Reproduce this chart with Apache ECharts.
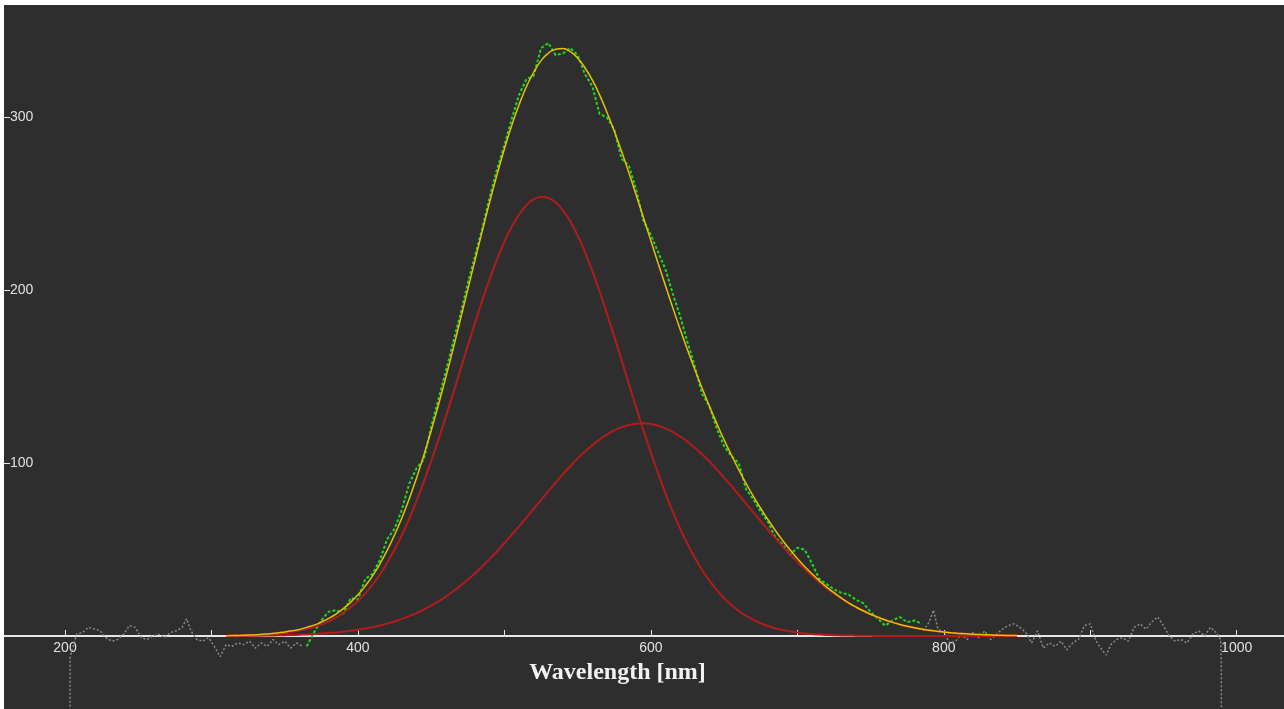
<!DOCTYPE html>
<html>
<head>
<meta charset="utf-8">
<script src="https://cdn.jsdelivr.net/npm/echarts@6/dist/echarts.min.js"></script>
<style>
  html, body { margin: 0; padding: 0; background: #ffffff; }
  #chart { position: absolute; left: 4px; top: 5px; width: 1280px; height: 704px; background: #2e2e2e; }
</style>
</head>
<body>
<div id="chart"></div>
<script>
// 光谱拟合图：原始数据 + 两个高斯分量 + 拟合曲线

// 拟合曲线的波长 (nm)，每 5 nm 一个点
const fitX = [310, 315, 320, 325, 330, 335, 340, 345, 350, 355,
  360, 365, 370, 375, 380, 385, 390, 395, 400, 405,
  410, 415, 420, 425, 430, 435, 440, 445, 450, 455,
  460, 465, 470, 475, 480, 485, 490, 495, 500, 505,
  510, 515, 520, 525, 530, 535, 540, 545, 550, 555,
  560, 565, 570, 575, 580, 585, 590, 595, 600, 605,
  610, 615, 620, 625, 630, 635, 640, 645, 650, 655,
  660, 665, 670, 675, 680, 685, 690, 695, 700, 705,
  710, 715, 720, 725, 730, 735, 740, 745, 750, 755,
  760, 765, 770, 775, 780, 785, 790, 795, 800, 805,
  810, 815, 820, 825, 830, 835, 840, 845, 850]

// 第一个高斯分量 (峰 ~526 nm)
const peak1 = [0.15, 0.21, 0.29, 0.41, 0.56, 0.76, 1.0, 1.37, 1.8, 2.4,
  3.1, 4.1, 5.2, 6.7, 8.5, 10.7, 13.3, 16.5, 20.2, 24.6,
  29.7, 35.6, 42.4, 50.0, 58.4, 67.8, 78.1, 89.2, 101.1, 113.7,
  126.8, 140.3, 154.1, 167.8, 181.3, 194.3, 206.6, 217.9, 228.0, 236.8,
  243.8, 249.2, 252.5, 254.0, 253.4, 250.7, 246.2, 239.8, 231.7, 222.1,
  211.3, 199.3, 186.5, 173.2, 159.6, 145.8, 132.2, 118.9, 106.1, 93.9,
  82.5, 71.8, 62.1, 53.2, 45.3, 38.2, 32.0, 26.6, 21.9, 17.9,
  14.5, 11.7, 9.3, 7.4, 5.8, 4.5, 3.5, 2.7, 2.0, 1.5,
  1.2, 0.85, 0.6, 0.46, 0.3, 0.24, 0.2, 0.12, 0.1, 0,
  0, 0, 0, 0, 0, 0, 0, 0, 0, 0,
  0, 0, 0, 0, 0, 0, 0, 0, 0]

// 第二个高斯分量 (峰 ~594 nm)
const peak2 = [0.06, 0.08, 0.11, 0.14, 0.18, 0.23, 0.29, 0.37, 0.46, 0.58,
  0.72, 0.9, 1.1, 1.4, 1.7, 2.0, 2.5, 3.0, 3.6, 4.3,
  5.1, 6.1, 7.2, 8.4, 9.9, 11.5, 13.3, 15.3, 17.6, 20.1,
  22.8, 25.8, 29.1, 32.6, 36.3, 40.3, 44.6, 49.0, 53.7, 58.5,
  63.4, 68.5, 73.6, 78.7, 83.8, 88.7, 93.6, 98.2, 102.6, 106.6,
  110.4, 113.7, 116.5, 118.9, 120.8, 122.1, 122.8, 123.0, 122.6, 121.6,
  120.1, 118.0, 115.4, 112.4, 108.9, 105.1, 100.9, 96.4, 91.6, 86.8,
  81.7, 76.6, 71.5, 66.5, 61.5, 56.6, 51.8, 47.2, 42.9, 38.7,
  34.8, 31.1, 27.7, 24.6, 21.7, 19.0, 16.6, 14.5, 12.5, 10.8,
  9.3, 7.9, 6.7, 5.7, 4.8, 4.0, 3.3, 2.8, 2.3, 1.9,
  1.5, 1.26, 1.0, 0.82, 0.7, 0.53, 0.4, 0.33, 0.3]

// 拟合总曲线
const fitY = [0.2, 0.3, 0.4, 0.55, 0.7, 1.0, 1.3, 1.7, 2.3, 3.0,
  3.8, 5.0, 6.3, 8.1, 10.2, 12.7, 15.8, 19.5, 23.8, 28.9,
  34.8, 41.7, 49.6, 58.4, 68.3, 79.3, 91.4, 104.5, 118.7, 133.8,
  149.6, 166.1, 183.2, 200.4, 217.6, 234.6, 251.2, 266.9, 281.7, 295.3,
  307.2, 317.7, 326.1, 332.7, 337.2, 339.4, 339.8, 338.0, 334.3, 328.7,
  321.7, 313.0, 303.0, 292.1, 280.4, 267.9, 255.0, 241.9, 228.7, 215.5,
  202.6, 189.8, 177.5, 165.6, 154.2, 143.3, 132.9, 123.0, 113.5, 104.7,
  96.2, 88.3, 80.8, 73.9, 67.3, 61.1, 55.3, 49.9, 44.9, 40.2,
  36.0, 32.0, 28.3, 25.1, 22.0, 19.2, 16.8, 14.6, 12.6, 10.9,
  9.3, 7.9, 6.7, 5.7, 4.8, 4.0, 3.3, 2.8, 2.3, 1.9,
  1.5, 1.3, 1.0, 0.8, 0.7, 0.5, 0.4, 0.3, 0.3]

// 拟合范围内的测量数据 (绿色)
const greenX = [365, 370, 375, 380, 385, 390, 395, 400, 405, 410,
  415, 420, 425, 430, 435, 440, 445, 450, 455, 460,
  465, 470, 475, 480, 485, 490, 495, 500, 505, 510,
  515, 520, 525, 530, 535, 540, 545, 550, 555, 560,
  565, 570, 575, 580, 585, 590, 595, 600, 605, 610,
  615, 620, 625, 630, 635, 640, 645, 650, 655, 660,
  665, 670, 675, 680, 685, 690, 695, 700, 705, 710,
  715, 720, 725, 730, 735, 740, 745, 750, 755, 760,
  765, 770, 775, 780, 785]
const greenY = [-6, 2, 9, 14, 15, 13, 22, 21, 33, 36,
  44, 56, 62, 73, 88, 97, 102, 121, 137, 153,
  170, 186, 204, 220, 236, 254, 270, 284, 299, 313,
  322, 324, 340, 343, 336, 337, 340, 336, 325, 318,
  302, 300, 293, 276, 272, 258, 240, 232, 222, 212,
  198, 185, 170, 156, 140, 133, 120, 110, 104, 100,
  85, 79, 72, 66, 57, 53, 47, 51, 50, 42,
  33, 30, 27, 25, 24, 21, 19, 14, 10, 6,
  9, 11, 8, 9, 7]

// 拟合范围外的测量数据 (灰色)
const grayLeftX = [203, 203.5, 208, 212, 216, 220, 224, 228, 232, 236, 240,
  244, 248, 252, 256, 260, 264, 268, 272, 276, 280,
  283, 286, 290, 294, 298, 302, 306, 310, 314, 318,
  322, 326, 330, 334, 338, 342, 346, 350, 354, 358, 362]
const grayLeftY = [-300, -12, 1, 2, 5, 4, 3, -1, -3, -2, 1,
  6, 5, -1, -2, 0, 1, -1, 2, 3, 5,
  10, 3, -2, -3, -1, -6, -12, -5, -6, -4,
  -5, -3, -7, -4, -6, -2, -5, -3, -7, -4, -6]
const grayRightX = [786, 790, 793, 796, 800, 804, 808, 812, 816, 820,
  824, 828, 832, 836, 840, 844, 848, 852, 856, 860,
  864, 868, 872, 876, 880, 884, 888, 892, 896, 900,
  904, 908, 911, 914, 918, 922, 926, 930, 934, 938,
  942, 946, 950, 954, 958, 962, 966, 970, 974, 978,
  982, 986, 989, 989.5, 990]
const grayRightY = [3, 8, 15, 4, 2, -4, -3, 1, -2, 2,
  -1, 3, -2, 1, 4, 6, 7, 5, 2, -4,
  3, -7, -4, -6, -3, -8, -4, -2, 6, 7,
  -3, -8, -11, -5, -2, -1, -3, 5, 7, 4,
  8, 11, 6, 0, -3, -2, -4, 1, 3, 0,
  5, 2, -2, -14, -300]

const xTicks = [200, 300, 400, 500, 600, 700, 800, 900, 1000]
const xLabels = [200, 400, 600, 800, 1000]
const yTicks = [100, 200, 300]

const pairs = (xs, ys) => xs.map((x, i) => [x, ys[i]])

const chart = echarts.init(document.getElementById('chart'))
const option = {
  animation: false,
  backgroundColor: '#2e2e2e',
  // x 轴放在网格底部 (y=0)，负值部分通过 clip:false 画到轴线下方
  grid: { left: 0, right: 0, top: 0, bottom: 73, containLabel: false, outerBoundsMode: 'none' },
  xAxis: {
    type: 'value',
    min: 158.35,
    max: 1032.3,
    name: 'Wavelength [nm]',
    nameLocation: 'middle',
    nameGap: 25,
    nameTextStyle: {
      color: '#f2f2f2',
      fontFamily: 'Liberation Serif',
      fontWeight: 'bold',
      fontSize: 24,
      padding: [0, 53, 0, 0]
    },
    axisLine: { lineStyle: { color: '#e6e6e6', width: 2 } },
    axisTick: { inside: true, length: 6, customValues: xTicks, lineStyle: { color: '#e6e6e6' } },
    axisLabel: {
      customValues: xLabels,
      formatter: v => String(v),
      color: '#e0e0e0',
      fontSize: 14,
      fontFamily: 'Liberation Sans',
      margin: 5
    },
    splitLine: { show: false }
  },
  yAxis: {
    type: 'value',
    min: 0,
    max: 365,
    axisLine: { show: false },
    axisTick: { show: true, inside: true, length: 6, customValues: yTicks, lineStyle: { color: '#e6e6e6' } },
    axisLabel: {
      inside: true,
      customValues: yTicks,
      formatter: v => String(v),
      color: '#e0e0e0',
      fontSize: 14,
      fontFamily: 'Liberation Sans',
      margin: 6
    },
    splitLine: { show: false }
  },
  series: [
    {
      name: 'raw left',
      type: 'line',
      data: pairs(grayLeftX, grayLeftY),
      clip: false,
      showSymbol: false,
      lineStyle: { color: '#8a8a8a', width: 1.5, type: [2, 2] }
    },
    {
      name: 'raw right',
      type: 'line',
      data: pairs(grayRightX, grayRightY),
      clip: false,
      showSymbol: false,
      lineStyle: { color: '#8a8a8a', width: 1.5, type: [2, 2] }
    },
    {
      name: 'data',
      type: 'line',
      data: pairs(greenX, greenY),
      clip: false,
      showSymbol: false,
      lineStyle: { color: '#1fd81f', width: 2, type: [3, 2] }
    },
    {
      name: 'peak 1',
      type: 'line',
      data: pairs(fitX, peak1),
      smooth: true,
      clip: false,
      showSymbol: false,
      lineStyle: { color: '#b01c1c', width: 2 }
    },
    {
      name: 'peak 2',
      type: 'line',
      data: pairs(fitX, peak2),
      smooth: true,
      clip: false,
      showSymbol: false,
      lineStyle: { color: '#b01c1c', width: 2 }
    },
    {
      name: 'fit',
      type: 'line',
      data: pairs(fitX, fitY),
      smooth: true,
      clip: false,
      showSymbol: false,
      z: 5,
      lineStyle: { color: '#e6c200', width: 1.5 }
    }
  ]
}
chart.setOption(option)
</script>
</body>
</html>
